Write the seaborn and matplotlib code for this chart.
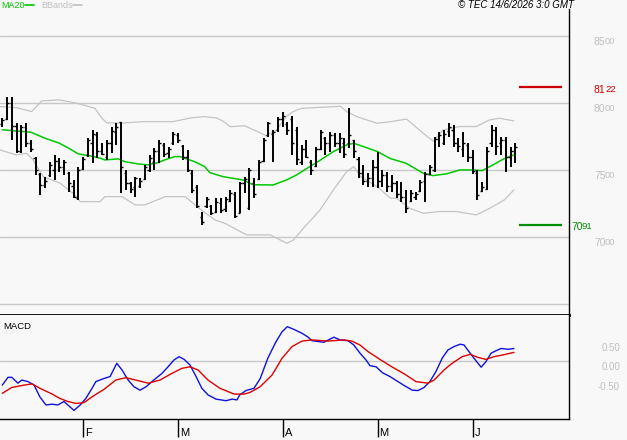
import numpy as np
import pandas as pd
import matplotlib
matplotlib.use("Agg")
import matplotlib.pyplot as plt
import matplotlib.transforms as mtransforms
from matplotlib.lines import Line2D
import seaborn as sns

# ---- daily bars ----
highs = [7886, 8045, 8045, 7849, 7836, 7849, 7724, 7600, 7476, 7451,
         7563, 7612, 7588, 7575, 7488, 7426, 7525, 7600, 7737, 7799,
         7787, 7699, 7724, 7824, 7849, 7861, 7500, 7413, 7451, 7438,
         7538, 7612, 7662, 7724, 7699, 7675, 7787, 7774, 7687, 7650,
         7500, 7388, 7190, 7301, 7239, 7289, 7289, 7301, 7351, 7339,
         7413, 7451, 7513, 7438, 7575, 7737, 7861, 7799, 7898, 7931,
         7861, 7903, 7824, 7687, 7724, 7575, 7675, 7799, 7749, 7787,
         7779, 7774, 7737, 7960, 7724, 7600, 7538, 7476, 7575, 7637,
         7500, 7488, 7463, 7420, 7413, 7351, 7351, 7339, 7426, 7488,
         7538, 7749, 7787, 7799, 7849, 7836, 7737, 7780, 7700, 7650,
         7500, 7413, 7675, 7836, 7824, 7749, 7749, 7675, 7699]
lows = [7824, 7870, 7725, 7625, 7625, 7675, 7637, 7463, 7314, 7364,
        7451, 7426, 7488, 7463, 7339, 7289, 7277, 7500, 7600, 7550,
        7588, 7612, 7575, 7625, 7687, 7326, 7351, 7326, 7302, 7364,
        7426, 7488, 7500, 7550, 7600, 7588, 7687, 7699, 7575, 7488,
        7326, 7215, 7090, 7215, 7165, 7177, 7177, 7190, 7264, 7140,
        7177, 7326, 7202, 7289, 7426, 7563, 7749, 7563, 7787, 7824,
        7762, 7612, 7538, 7538, 7588, 7463, 7525, 7650, 7612, 7637,
        7675, 7625, 7588, 7662, 7588, 7438, 7389, 7376, 7376, 7364,
        7376, 7339, 7339, 7290, 7260, 7177, 7264, 7277, 7339, 7264,
        7463, 7488, 7675, 7687, 7749, 7675, 7637, 7600, 7560, 7470,
        7277, 7339, 7351, 7675, 7612, 7612, 7488, 7525, 7550]
opens = [7840, 7880, 8000, 7830, 7640, 7820, 7700, 7590, 7470, 7390,
         7460, 7500, 7570, 7520, 7480, 7380, 7290, 7510, 7610, 7700,
         7760, 7640, 7600, 7700, 7780, 7860, 7480, 7400, 7370, 7380,
         7430, 7500, 7560, 7640, 7690, 7630, 7700, 7760, 7680, 7600,
         7480, 7370, 7150, 7230, 7230, 7190, 7250, 7210, 7270, 7320,
         7180, 7400, 7220, 7400, 7430, 7570, 7760, 7770, 7800, 7880,
         7840, 7880, 7800, 7560, 7660, 7560, 7530, 7660, 7740, 7700,
         7760, 7700, 7700, 7700, 7720, 7580, 7480, 7420, 7440, 7520,
         7420, 7460, 7380, 7400, 7320, 7300, 7270, 7300, 7340, 7420,
         7470, 7500, 7730, 7700, 7790, 7800, 7700, 7660, 7690, 7600,
         7480, 7340, 7360, 7700, 7800, 7700, 7720, 7600, 7640]
closes = [7870, 8000, 7830, 7640, 7820, 7700, 7660, 7500, 7390, 7420,
          7540, 7570, 7520, 7560, 7400, 7300, 7500, 7580, 7720, 7770,
          7640, 7620, 7700, 7790, 7820, 7520, 7400, 7360, 7440, 7420,
          7520, 7590, 7640, 7700, 7620, 7660, 7770, 7720, 7600, 7500,
          7350, 7230, 7110, 7280, 7180, 7260, 7200, 7280, 7330, 7160,
          7400, 7430, 7500, 7320, 7560, 7720, 7850, 7780, 7880, 7900,
          7800, 7700, 7580, 7660, 7600, 7500, 7660, 7780, 7700, 7760,
          7700, 7740, 7620, 7760, 7640, 7480, 7420, 7440, 7520, 7420,
          7460, 7380, 7400, 7320, 7300, 7220, 7330, 7320, 7410, 7470,
          7520, 7730, 7760, 7770, 7820, 7700, 7680, 7700, 7600, 7490,
          7310, 7370, 7640, 7800, 7680, 7720, 7600, 7640, 7670]

# ---- indicator lines (bar index, value) ----
ma_x = [0, 6, 9, 12, 14, 16, 18.5, 20.6, 21.6, 24.4, 25.8, 28.6, 30.7, 32.8, 34.2,
        36.3, 37.4, 38.4, 40.5, 42.6, 43.7, 46.5, 50.7, 52.8, 57, 59.8, 61.9, 64.7,
        66.8, 69.7, 72.5, 74, 76, 79, 81.7, 85, 88.6, 90.7, 93.5, 96.3, 99, 101,
        103.3, 105.4, 107.7]
ma20 = [7800, 7782, 7737, 7700, 7662, 7620, 7605, 7588, 7575, 7583, 7562, 7545, 7538,
        7555, 7575, 7600, 7600, 7587, 7562, 7525, 7480, 7450, 7425, 7390, 7388, 7425,
        7462, 7524, 7570, 7637, 7687, 7699, 7675, 7637, 7585, 7550, 7476, 7458, 7471,
        7500, 7500, 7495, 7538, 7580, 7612]

bb_up_x = [-0.5, 3, 6.2, 8.3, 12, 15.7, 19.5, 20.9, 22, 25.6, 30, 36, 39.6, 42.4, 45.2,
           46.6, 48, 51, 53.5, 55.6, 57.7, 59.8, 61.2, 63, 71.2, 72.5, 74.6, 78.9, 81.7,
           85.1, 88.6, 90.7, 92.8, 96.3, 99.8, 102.6, 104.7, 107.7]
bb_up = [7973, 7965, 7936, 8015, 8023, 7998, 7960, 7890, 7851, 7851, 7861, 7861, 7888,
         7898, 7888, 7861, 7823, 7830, 7790, 7755, 7798, 7898, 7935, 7960, 7975, 7936,
         7898, 7849, 7860, 7880, 7774, 7715, 7799, 7824, 7824, 7874, 7886, 7866]

bb_lo_x = [-0.5, 3, 5.1, 6.5, 8.6, 12.2, 14.9, 16.4, 20.6, 21.6, 25.2, 28, 30, 34.3, 38.5,
           40.6, 42.7, 44.8, 47, 51.4, 56.4, 58.5, 59.9, 61.3, 63.4, 66.9, 69.7, 72.5, 74,
           75.4, 78.9, 81.7, 83, 85.8, 88.6, 92.1, 95.6, 99.8, 102.6, 105.7, 107.7]
bb_lo = [7650, 7612, 7625, 7575, 7451, 7401, 7326, 7264, 7264, 7301, 7301, 7239, 7239,
         7301, 7301, 7239, 7180, 7127, 7100, 7016, 7016, 6978, 6953, 6978, 7065, 7202,
         7351, 7488, 7525, 7451, 7376, 7290, 7289, 7214, 7177, 7190, 7190, 7165, 7214,
         7277, 7351]

macd_x = [0, 1.2, 2, 3.3, 4.1, 5.4, 6.7, 7.9, 9.2, 10.5, 11.7, 13, 13.8, 15.1, 16.4, 17.6,
          18.9, 19.7, 21.4, 22.7, 24.1, 25.2, 26.5, 27.7, 29, 30.3, 31.9, 33.6, 34.9, 36.1,
          37.2, 38.3, 39.5, 40.8, 42, 43.3, 45, 47.1, 48.4, 49.4, 50, 51.3, 53, 54.3, 55.9,
          57.6, 58.9, 60, 61.4, 63.1, 64.4, 65.2, 67.7, 69.8, 71.1, 72.8, 74, 75.3, 76.6,
          77.4, 78.7, 80, 81.6, 83.3, 84.6, 86.3, 87.5, 88.8, 90, 91.3, 92.6, 93.8, 95.1,
          96.4, 97.2, 98, 99.3, 100.8, 101.8, 102.9, 103.9, 105, 106.5, 107.7]
macd = [-0.61, -0.41, -0.41, -0.56, -0.48, -0.52, -0.61, -0.91, -1.12, -1.10, -1.12,
        -1.03, -1.12, -1.26, -1.12, -0.95, -0.69, -0.52, -0.44, -0.39, -0.05, -0.22,
        -0.48, -0.65, -0.74, -0.65, -0.48, -0.31, -0.14, 0.03, 0.12, 0.05, -0.09, -0.39,
        -0.69, -0.86, -0.97, -1.01, -0.97, -0.99, -0.86, -0.75, -0.69, -0.44, 0.08, 0.50,
        0.76, 0.89, 0.82, 0.72, 0.62, 0.53, 0.49, 0.62, 0.55, 0.53, 0.42, 0.21, 0.03,
        -0.11, -0.14, -0.29, -0.39, -0.52, -0.62, -0.74, -0.75, -0.67, -0.52, -0.26, 0.08,
        0.29, 0.38, 0.44, 0.42, 0.29, 0.08, -0.15, -0.01, 0.21, 0.27, 0.33, 0.31, 0.33]

sig_x = [0, 2, 4.6, 6.3, 7.9, 10.5, 12.1, 13.8, 15.5, 17.2, 18.9, 21.4, 23.9, 26, 28.1,
         30.7, 33.2, 35.7, 37.8, 39.5, 41.2, 43.3, 45.8, 48.8, 50.9, 52.1, 54.3, 56.8,
         58.9, 61, 63.1, 65.2, 68.6, 71.9, 73.6, 75.3, 77, 79.5, 82, 84.6, 87.1, 89.6,
         90.9, 93, 94.7, 96.8, 98.5, 100.2, 101.8, 103.5, 105.2, 107.7]
signal = [-0.82, -0.67, -0.61, -0.58, -0.69, -0.84, -0.95, -1.03, -1.08, -1.06, -0.91,
          -0.72, -0.48, -0.42, -0.48, -0.56, -0.48, -0.31, -0.18, -0.14, -0.22, -0.48,
          -0.69, -0.84, -0.84, -0.80, -0.65, -0.35, 0.08, 0.38, 0.52, 0.55, 0.52, 0.55,
          0.52, 0.42, 0.25, 0.05, -0.14, -0.32, -0.52, -0.56, -0.48, -0.22, -0.05, 0.12,
          0.18, 0.10, 0.05, 0.12, 0.16, 0.23]

month_labels = ["F", "M", "A", "M", "J"]
month_starts = [17, 37, 59, 79, 99]

level_hi = 8122
level_lo = 7091
price_ticks = [7000, 7500, 8000, 8500]
price_grid = [6500, 7000, 7500, 8000, 8500]
macd_ticks = [-0.5, 0.0, 0.5]

BG = "#f8f8f8"
GRID = "#c8c8c8"
LBL = "#c0c0c0"
SANS = ["Liberation Sans", "DejaVu Sans"]

sns.set_style("white", {"axes.facecolor": BG, "figure.facecolor": BG})
plt.rcParams["font.family"] = SANS

W, H = 627, 440
fig = plt.figure(figsize=(W / 100, H / 100), dpi=100)
ax = fig.add_axes([0, 1 - 315 / H, 569 / W, (315 - 9) / H])
ax2 = fig.add_axes([0, 1 - 419 / H, 569 / W, (419 - 315) / H])

bars = pd.DataFrame({"high": highs, "low": lows, "open": opens, "close": closes})
bars["x"] = np.arange(len(bars))

# price panel
for g in price_grid:
    ax.axhline(g, color=GRID, lw=1, zorder=0)
ax.vlines(bars["x"], bars["low"], bars["high"], color="black", lw=1.4, zorder=3)
ax.hlines(bars["open"], bars["x"] - 0.45, bars["x"], color="black", lw=1, zorder=3)
ax.hlines(bars["close"], bars["x"], bars["x"] + 0.45, color="black", lw=1, zorder=3)

sns.lineplot(x=bb_up_x, y=bb_up, ax=ax, color="#c4c4c4", lw=0.9, zorder=1)
sns.lineplot(x=bb_lo_x, y=bb_lo, ax=ax, color="#c4c4c4", lw=0.9, zorder=1)
sns.lineplot(x=ma_x, y=ma20, ax=ax, color="#00c800", lw=1.1, zorder=2)

ax.hlines(level_hi, 108.8, 117.9, color="#cc0000", lw=1.6)
ax.hlines(level_lo, 108.8, 117.9, color="#008c00", lw=1.6)

xlim = (-0.48, 119.3)
ax.set_xlim(*xlim)
ax.set_ylim(6418, 8701)

# MACD panel
ax2.axhline(0, color=GRID, lw=1, zorder=0)
sns.lineplot(x=macd_x, y=macd, ax=ax2, color="#1010e0", lw=1.0)
sns.lineplot(x=sig_x, y=signal, ax=ax2, color="#dd0000", lw=1.0)
ax2.set_xlim(*xlim)
ax2.set_ylim(-1.48, 1.19)

for a in (ax, ax2):
    a.set_xticks([])
    a.set_yticks([])
    a.set_xlabel("")
    a.set_ylabel("")
    a.spines["left"].set_visible(False)
    a.spines["top"].set_visible(False)
    a.spines["right"].set_color("black")
    a.spines["right"].set_linewidth(1.0)
    a.spines["bottom"].set_color("black")
ax.spines["bottom"].set_linewidth(2.0)
ax2.spines["bottom"].set_linewidth(1.0)


def split_label(a, val, text, x_px, color, dy_px, big=7.5, small=6.8, gap=11):
    trans = mtransforms.blended_transform_factory(fig.transFigure, a.transData)
    t1 = mtransforms.offset_copy(trans, fig=fig, x=0, y=dy_px, units="dots")
    t2 = mtransforms.offset_copy(trans, fig=fig, x=gap, y=dy_px, units="dots")
    a.text(x_px / W, val, text[:2], transform=t1, ha="left", va="top",
           fontsize=big, color=color, clip_on=False)
    a.text(x_px / W, val, text[2:], transform=t2, ha="left", va="top",
           fontsize=small, color=color, clip_on=False)


for p in price_ticks:
    split_label(ax, p, str(p), 594, LBL, -1)
split_label(ax, level_hi, str(level_hi), 594, "#cc0000", 2)
split_label(ax, level_lo, str(level_lo), 571, "#008c00", 3)

trans2 = mtransforms.blended_transform_factory(fig.transFigure, ax2.transData)
for m in macd_ticks:
    t = mtransforms.offset_copy(trans2, fig=fig, x=0, y=-1, units="dots")
    ax2.text(620 / W, m, f"{m:.2f}", transform=t, ha="right", va="top",
             fontsize=7, color=LBL, clip_on=False)

# month ticks below the MACD panel
tick_tr = mtransforms.blended_transform_factory(ax2.transData, ax2.transAxes)
ax2.vlines(month_starts, -18 / 104, 0, transform=tick_tr, color="black", lw=1, clip_on=False)
for m, lab in zip(month_starts, month_labels):
    t = mtransforms.offset_copy(tick_tr, fig=fig, x=2, y=0, units="dots")
    ax2.text(m, -9 / 104, lab, transform=t, ha="left", va="top", fontsize=8,
             color="black", clip_on=False)

ax2.text(3 / 569, (315 - 322) / 104 + 1, "MACD", transform=ax2.transAxes, ha="left",
         va="top", fontsize=6.8, color="black")

# header
fig.text(1 / W, 1 - 5 / H, "MA20", ha="left", va="center", fontsize=6.5,
         color="#00c800")
fig.add_artist(Line2D([25 / W, 34 / W], [1 - 5 / H] * 2, color="#00c800", lw=1.2))
fig.text(41 / W, 1 - 5 / H, "BBands", ha="left", va="center", fontsize=6.5,
         color=LBL)
fig.add_artist(Line2D([73 / W, 82 / W], [1 - 5 / H] * 2, color=LBL, lw=1.2))
fig.text(574 / W, 1 - 5 / H, "\u00a9 TEC 14/6/2026 3:0 GMT", ha="right", va="center",
         fontsize=7, style="italic", color="black")

fig.savefig("out.png", dpi=100, facecolor=BG)
